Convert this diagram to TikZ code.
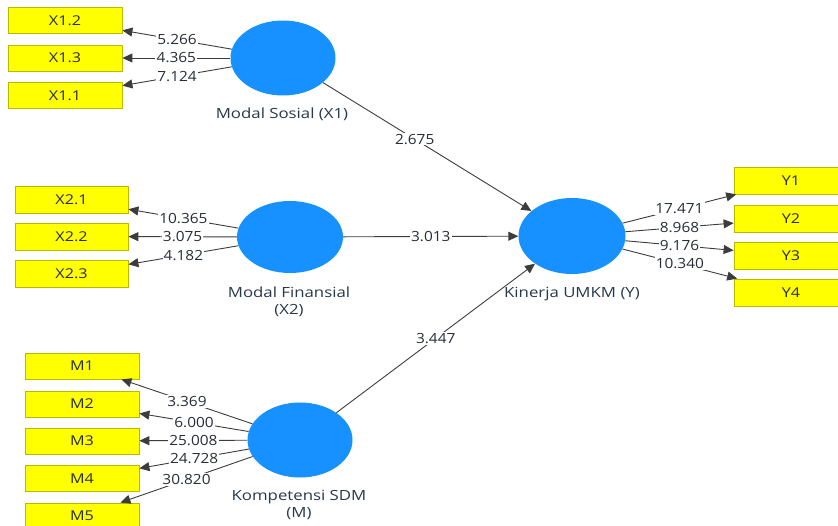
\documentclass[tikz,border=0pt]{standalone}
\usepackage{fontspec}
\setmainfont{Open Sans}
\newfontfamily\labfont[FakeStretch=1.2]{Open Sans}
\newfontfamily\numfont[FakeStretch=1.1]{Open Sans}
\usetikzlibrary{shapes.geometric,arrows.meta}
\definecolor{lvblue}{RGB}{22,145,255}
\definecolor{mvfill}{RGB}{255,255,0}
\definecolor{mvedge}{RGB}{185,185,0}
\definecolor{lineg}{RGB}{60,60,60}
\definecolor{txtg}{RGB}{40,45,55}
\definecolor{labg}{RGB}{40,55,75}
\begin{document}
\begin{tikzpicture}[x=1pt,y=-1pt,
  lv/.style={ellipse,fill=lvblue,minimum width=105pt,minimum height=75pt,inner sep=0pt},
  mv/.style={rectangle,fill=mvfill,draw=mvedge,line width=0.8pt,minimum width=114pt,minimum height=26pt,inner sep=0pt,font=\labfont\fontsize{13.5}{16}\selectfont,text=txtg},
  lvlab/.style={font=\labfont\fontsize{14}{17}\selectfont,text=labg,align=center,inner sep=0pt},
  con/.style={draw=lineg,line width=0.9pt,-{Triangle[length=10pt,width=9pt]}},
  val/.style={fill=white,inner sep=1.2pt,font=\numfont\fontsize{14}{16}\selectfont,text=txtg}]
\useasboundingbox (0,0) rectangle (838,526);

% latent variables
\node[lv] (X1) at (283,58) {};
\node[lv,minimum width=106pt,minimum height=72pt] (X2) at (290,237) {};
\node[lv] (M) at (300,440) {};
\node[lv,minimum width=107pt,minimum height=76pt] (Y) at (572,236) {};

\node[lvlab] (lX1) at (282,114) {Modal Sosial (X1)};
\node[lvlab] (lX2) at (289,301.5) {Modal Finansial\\(X2)};
\node[lvlab] (lM) at (299,505) {Kompetensi SDM\\(M)};
\node[lvlab] (lY) at (572,294) {Kinerja UMKM (Y)};

% indicators
\node[mv] (x12) at (65,20.5) {X1.2};
\node[mv] (x13) at (65,58) {X1.3};
\node[mv] (x11) at (65,95.5) {X1.1};

\node[mv,minimum width=113pt,minimum height=27pt] (x21) at (71.5,199.5) {X2.1};
\node[mv,minimum width=113pt,minimum height=27pt] (x22) at (71.5,236.5) {X2.2};
\node[mv,minimum width=113pt,minimum height=27pt] (x23) at (71.5,274) {X2.3};

\node[mv] (m1) at (82,366) {M1};
\node[mv] (m2) at (82,404) {M2};
\node[mv] (m3) at (82,441) {M3};
\node[mv] (m4) at (82,478.5) {M4};
\node[mv] (m5) at (82,516) {M5};

\node[mv,minimum height=27pt] (y1) at (791,180.5) {Y1};
\node[mv,minimum height=27pt] (y2) at (791,218.5) {Y2};
\node[mv,minimum height=27pt] (y3) at (791,255.5) {Y3};
\node[mv,minimum height=27pt] (y4) at (791,292.5) {Y4};

% outer loadings
\draw[con] (X1) -- node[val]{5.266} (x12);
\draw[con] (X1) -- node[val]{4.365} (x13);
\draw[con] (X1) -- node[val]{7.124} (x11);

\draw[con] (X2) -- node[val]{10.365} (x21);
\draw[con] (X2) -- node[val]{3.075} (x22);
\draw[con] (X2) -- node[val]{4.182} (x23);

\draw[con] (M) -- node[val]{3.369} (m1);
\draw[con] (M) -- node[val]{6.000} (m2);
\draw[con] (M) -- node[val]{25.008} (m3);
\draw[con] (M) -- node[val]{24.728} (m4);
\draw[con] (M) -- node[val]{30.820} (m5);

\draw[con] (Y) -- node[val]{17.471} (y1);
\draw[con] (Y) -- node[val]{8.968} (y2);
\draw[con] (Y) -- node[val]{9.176} (y3);
\draw[con] (Y) -- node[val]{10.340} (y4);

% structural paths
\draw[con] (X1) -- node[val,pos=0.44]{2.675} (Y);
\draw[con] (X2) -- node[val]{3.013} (Y);
\draw[con] (M) -- node[val]{3.447} (Y);
\end{tikzpicture}
\end{document}
